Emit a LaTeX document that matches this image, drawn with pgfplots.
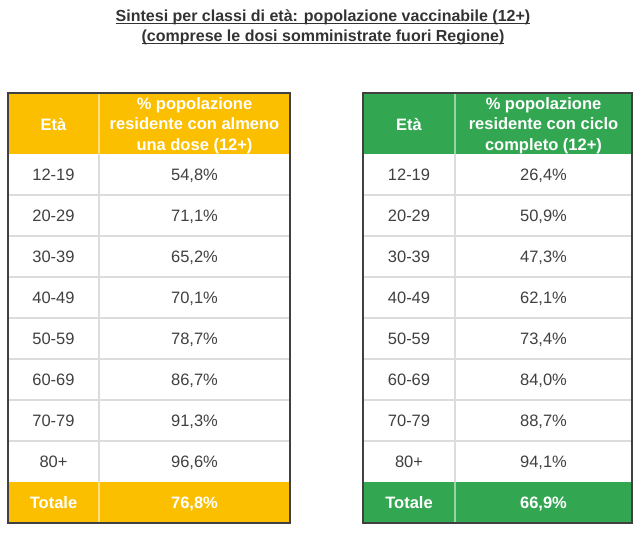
\documentclass[border=0pt]{standalone}
\usepackage{fontspec}
\setmainfont{Liberation Sans}
\usepackage{pgfplots}
\usepackage{pgfplotstable}
\pgfplotsset{compat=1.18}
\definecolor{gialla}{HTML}{FBBF00}
\definecolor{verde}{HTML}{33A652}
\definecolor{testo}{HTML}{404040}
\definecolor{titolo}{HTML}{333333}
\definecolor{griglia}{HTML}{DCDCDC}
\definecolor{bordo}{HTML}{404040}

\newcommand\ul[1]{\setbox0\hbox{#1}\rlap{\rule[-2.3pt]{\wd0}{0.9pt}}\box0}

% row centre (layout), age class, % with at least one dose, % with complete cycle
\pgfplotstableread{
row   age    almeno  ciclo
174.5 12-19  54.8    26.4
215.5 20-29  71.1    50.9
256.5 30-39  65.2    47.3
297.5 40-49  70.1    62.1
338.5 50-59  78.7    73.4
379.5 60-69  86.7    84.0
420.5 70-79  91.3    88.7
461.5 80+    96.6    94.1
}\dati

\pgfplotsset{
  cella/.style={draw=none, mark=none, nodes near coords,
    every node near coord/.style={anchor=center, text=testo,
      text height=11.8pt, text depth=0pt,
      font=\fontsize{16.5}{20}\selectfont}},
  pct/.style={cella, point meta=explicit,
    nodes near coords={\pgfmathprintnumber[fixed,fixed zerofill,precision=1,use comma,assume math mode=true]{\pgfplotspointmeta}\%}},
  tot/.style={draw=none, mark=none, point meta=explicit,
    nodes near coords={\pgfmathprintnumber[fixed,fixed zerofill,precision=1,use comma,assume math mode=true]{\pgfplotspointmeta}\%},
    every node near coord/.style={anchor=center, text=white,
      text height=11.8pt, text depth=0pt,
      font=\bfseries\fontsize{16.5}{20}\selectfont}},
}

\begin{document}
\begin{tikzpicture}
\begin{axis}[width=644pt, height=536pt, scale only axis,
  xmin=0, xmax=644, ymin=0, ymax=536, y dir=reverse,
  hide axis, clip=false]
\path (axis cs:0,0) rectangle (axis cs:644,536);

% ---- left table backgrounds
\fill[gialla] (axis cs:8,93) rectangle (axis cs:290,154);
\fill[gialla] (axis cs:8,482) rectangle (axis cs:290,523);
% ---- right table backgrounds
\fill[verde] (axis cs:363,93) rectangle (axis cs:632,154);
\fill[verde] (axis cs:363,482) rectangle (axis cs:632,523);

\pgfplotsinvokeforeach{195,236,277,318,359,400,441}{
  \draw[griglia, line width=1.5pt] (axis cs:8,#1) -- (axis cs:290,#1);
  \draw[griglia, line width=1.5pt] (axis cs:363,#1) -- (axis cs:632,#1);
}
\draw[griglia, line width=1.2pt] (axis cs:99,154) -- (axis cs:99,482);
\draw[griglia, line width=1.2pt] (axis cs:455,154) -- (axis cs:455,482);
\draw[white, opacity=0.5, line width=1.2pt] (axis cs:99,93) -- (axis cs:99,154);
\draw[white, opacity=0.5, line width=1.2pt] (axis cs:99,482) -- (axis cs:99,523);
\draw[white, opacity=0.5, line width=1.2pt] (axis cs:455,93) -- (axis cs:455,154);
\draw[white, opacity=0.5, line width=1.2pt] (axis cs:455,482) -- (axis cs:455,523);

\draw[bordo, line width=1.3pt] (axis cs:8,93) rectangle (axis cs:290,523);
\draw[bordo, line width=1.3pt] (axis cs:363,93) rectangle (axis cs:632,523);

% ---- title
\node[text=titolo, align=center, font=\bfseries\fontsize{16}{20}\selectfont]
  at (axis cs:323,27.5)
  {\ul{Sintesi per classi di età: popolazione vaccinabile (12+)}\\
   \ul{(comprese le dosi somministrate fuori Regione)}};

% ---- headers
\node[text=white, text height=11.8pt, text depth=0pt, font=\bfseries\fontsize{16.5}{20}\selectfont] at (axis cs:53.5,124.5) {Età};
\node[text=white, align=center, font=\bfseries\fontsize{16.5}{20.5}\selectfont] at (axis cs:194.5,125.5)
  {\% popolazione\\residente con almeno\\una dose (12+)};
\node[text=white, text height=11.8pt, text depth=0pt, font=\bfseries\fontsize{16.5}{20}\selectfont] at (axis cs:409,124.5) {Età};
\node[text=white, align=center, font=\bfseries\fontsize{16.5}{20.5}\selectfont] at (axis cs:543.5,125.5)
  {\% popolazione\\residente con ciclo\\completo (12+)};

% ---- body (from table)
\addplot[cella, point meta=explicit symbolic] table[x expr=53.5, y=row, meta=age] {\dati};
\addplot[pct] table[x expr=194.5, y=row, meta=almeno] {\dati};
\addplot[cella, point meta=explicit symbolic] table[x expr=409, y=row, meta=age] {\dati};
\addplot[pct] table[x expr=543.5, y=row, meta=ciclo] {\dati};

% ---- totals
\node[text=white, text height=11.8pt, text depth=0pt, font=\bfseries\fontsize{16.5}{20}\selectfont] at (axis cs:53.5,502.5) {Totale};
\node[text=white, text height=11.8pt, text depth=0pt, font=\bfseries\fontsize{16.5}{20}\selectfont] at (axis cs:409,502.5) {Totale};
\addplot[tot] coordinates {(194.5,502.5) [76.8]};
\addplot[tot] coordinates {(543.5,502.5) [66.9]};
\end{axis}
\end{tikzpicture}
\end{document}
